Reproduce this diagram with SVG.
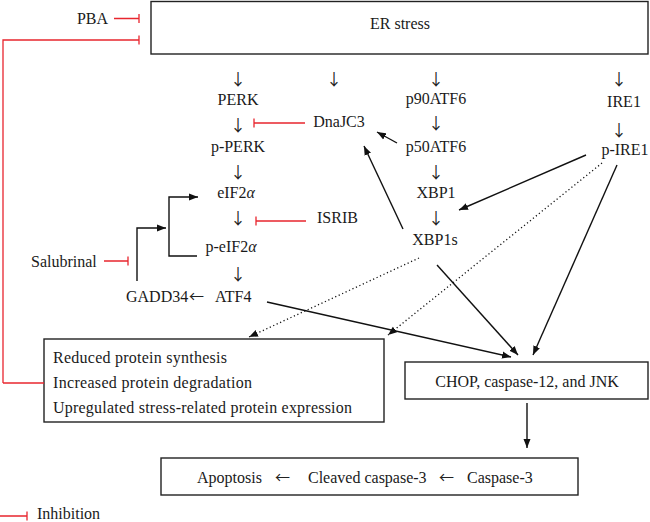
<svg xmlns="http://www.w3.org/2000/svg" width="650" height="522" viewBox="0 0 650 522">
<style>
text{font-family:"Liberation Serif","Times New Roman",serif;font-size:16px;fill:#1a1a1a}
.m{text-anchor:middle}
.e{text-anchor:end}
.ar{font-family:"Noto Sans CJK SC","DejaVu Sans",sans-serif;font-size:16px;fill:#222}
.al{font-family:"Noto Sans CJK SC","DejaVu Sans",sans-serif;font-size:15px;fill:#222}
.box{fill:#fff;stroke:#222;stroke-width:1.4}
.ln{fill:none;stroke:#111;stroke-width:1.4}
.dot{fill:none;stroke:#111;stroke-width:1.3;stroke-dasharray:1.2 2.6}
.red{fill:none;stroke:#e8262e;stroke-width:1.3}
.i{font-style:italic}
</style>
<defs>
<marker id="ah" markerUnits="userSpaceOnUse" markerWidth="10" markerHeight="8" refX="9" refY="4" orient="auto">
<path d="M0,0.5 L9,4 L0,7.5 z" fill="#111"/>
</marker>
</defs>
<rect width="650" height="522" fill="#fff"/>

<g id="er-stress"><rect class="box" x="151" y="1.5" width="497" height="52.5"/><text class="m" x="400" y="29">ER stress</text></g>
<g id="pba"><text class="e" x="108" y="24">PBA</text></g>
<g id="down-arrows">
<text class="m ar" x="238" y="85">↓</text>
<text class="m ar" x="334" y="85">↓</text>
<text class="m ar" x="436" y="85">↓</text>
<text class="m ar" x="619" y="85">↓</text>
<text class="m ar" x="238" y="131">↓</text>
<text class="m ar" x="436" y="129">↓</text>
<text class="m ar" x="619" y="136">↓</text>
<text class="m ar" x="238" y="178">↓</text>
<text class="m ar" x="436" y="178">↓</text>
<text class="m ar" x="238" y="224">↓</text>
<text class="m ar" x="436" y="224">↓</text>
<text class="m ar" x="238" y="280">↓</text>
</g>
<g id="perk"><text class="m" x="238" y="105">PERK</text></g>
<g id="p90atf6"><text class="m" x="436" y="104">p90ATF6</text></g>
<g id="ire1"><text class="m" x="624" y="107">IRE1</text></g>
<g id="dnajc3"><text class="m" x="339" y="127">DnaJC3</text></g>
<g id="p-perk"><text class="m" x="238" y="152">p-PERK</text></g>
<g id="p50atf6"><text class="m" x="436" y="152">p50ATF6</text></g>
<g id="p-ire1"><text class="m" x="625" y="155">p-IRE1</text></g>
<g id="eif2a"><text class="m" x="236" y="198">eIF2<tspan class="i">α</tspan></text></g>
<g id="xbp1"><text class="m" x="436" y="198">XBP1</text></g>
<g id="isrib"><text x="317" y="223">ISRIB</text></g>
<g id="p-eif2a"><text class="m" x="231" y="252">p-eIF2<tspan class="i">α</tspan></text></g>
<g id="xbp1s"><text class="m" x="435" y="245">XBP1s</text></g>
<g id="salubrinal"><text x="31" y="267">Salubrinal</text></g>
<g id="gadd34"><text x="126" y="302">GADD34</text><text class="al" x="189" y="302">←</text></g>
<g id="atf4"><text x="215" y="302">ATF4</text></g>
<g id="outcomes"><rect class="box" x="44" y="339" width="340" height="83"/>
<text x="53" y="363" textLength="174" lengthAdjust="spacing">Reduced protein synthesis</text>
<text x="53" y="388" textLength="199" lengthAdjust="spacing">Increased protein degradation</text>
<text x="53" y="413" textLength="299" lengthAdjust="spacing">Upregulated stress-related protein expression</text></g>
<g id="chop"><rect class="box" x="405" y="362" width="243" height="37"/><text class="m" x="527" y="387">CHOP, caspase-12, and JNK</text></g>
<g id="apoptosis"><rect class="box" x="161" y="458" width="417" height="37"/>
<text x="197" y="483">Apoptosis</text><text class="al" x="275" y="483">←</text><text x="308" y="483">Cleaved caspase-3</text><text class="al" x="439" y="483">←</text><text x="467" y="483">Caspase-3</text></g>
<g id="legend"><path class="red" d="M0,516 H27 M27,511.5 V520.5"/><text x="37" y="519">Inhibition</text></g>

<g id="connectors">
<path class="red" d="M114,18.5 H139 M139,14 V23"/>
<path class="red" d="M3,383 V40 H139 M139,35.5 V44.5"/>
<path class="red" d="M3,383 H44"/>
<path class="red" d="M305,123 H254 M254,118.5 V127.5"/>
<path class="red" d="M306,221 H256 M256,216.5 V225.5"/>
<path class="red" d="M104,261 H128 M128,256.5 V265.5"/>
<path class="ln" d="M197,256 H169 V197 H198" marker-end="url(#ah)"/>
<path class="ln" d="M137,281 V228 H166" marker-end="url(#ah)"/>
<path class="ln" d="M397,143 L377,132" marker-end="url(#ah)"/>
<path class="ln" d="M403,229 L364,146" marker-end="url(#ah)"/>
<path class="ln" d="M586,155 L459,210" marker-end="url(#ah)"/>
<path class="dot" d="M602,163 L388,335" marker-end="url(#ah)"/>
<path class="dot" d="M419,258 L249,337" marker-end="url(#ah)"/>
<path class="ln" d="M267,302 L511,357" marker-end="url(#ah)"/>
<path class="ln" d="M437,265 L518,355" marker-end="url(#ah)"/>
<path class="ln" d="M617,165 L533,355" marker-end="url(#ah)"/>
<path class="ln" d="M527,403 V448" marker-end="url(#ah)"/>
</g>
</svg>
